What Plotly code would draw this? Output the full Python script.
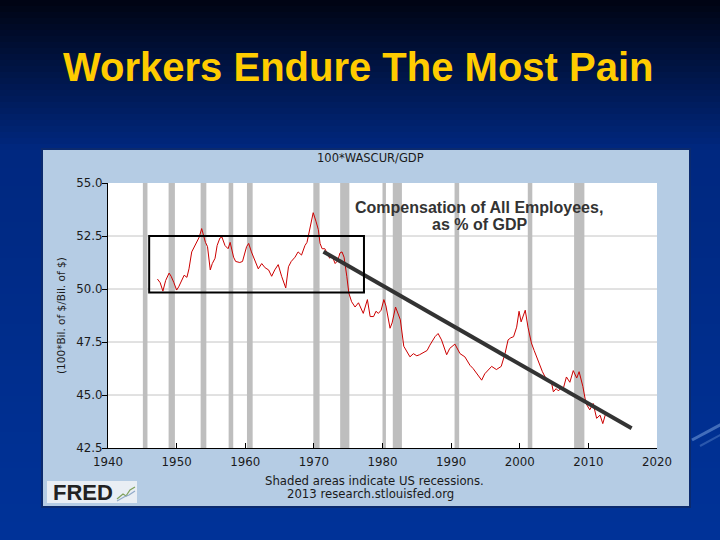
import plotly.graph_objects as go

# ---------------- data ----------------
years = [1947.2, 1947.6, 1948.0, 1948.4, 1948.9, 1949.2, 1949.6, 1950.0, 1950.3, 1950.7,
         1951.1, 1951.5, 1951.8, 1952.2, 1952.7, 1953.0, 1953.3, 1953.65, 1954.0, 1954.2,
         1954.5, 1954.9, 1955.2, 1955.6, 1955.9, 1956.3, 1956.6, 1957.05, 1957.5, 1957.8,
         1958.3, 1958.6, 1959.2, 1959.6, 1960.2, 1960.5, 1960.9, 1961.4, 1961.9, 1962.4,
         1962.9, 1963.4, 1963.85, 1964.3, 1964.8, 1965.3, 1965.9, 1966.3, 1966.7, 1967.25,
         1967.7, 1968.2, 1968.7, 1969.0, 1969.35, 1969.7, 1969.9, 1970.3, 1970.65, 1970.9,
         1971.2, 1971.6, 1972.0, 1972.3, 1972.6, 1973.1, 1973.5, 1973.8, 1974.1, 1974.4,
         1974.8, 1975.1, 1975.5, 1976.0, 1976.5, 1977.2, 1977.8, 1978.2, 1978.7, 1979.05,
         1979.4, 1979.8, 1980.2, 1980.5, 1981.1, 1981.4, 1981.9, 1982.3, 1982.6, 1983.1,
         1983.5, 1984.0, 1984.5, 1985.0, 1985.4, 1985.9, 1986.5, 1986.9, 1987.65, 1988.1,
         1988.6, 1989.35, 1989.8, 1990.55, 1991.3, 1992.0, 1992.75, 1993.2, 1993.8, 1994.45,
         1994.9, 1995.4, 1995.9, 1996.6, 1997.3, 1997.85, 1998.3, 1998.7, 1999.1, 1999.55,
         1999.9, 2000.2, 2000.5, 2000.8, 2001.2, 2001.7, 2002.1, 2002.45, 2002.9, 2003.3,
         2003.7, 2004.2, 2004.65, 2004.9, 2005.3, 2005.6, 2006.0, 2006.3, 2006.8, 2007.3,
         2007.8, 2008.3, 2008.65, 2009.2, 2009.65, 2010.2, 2010.7, 2011.2, 2011.7, 2012.1,
         2012.5]
comp_pct_gdp = [50.47, 50.3, 49.9, 50.4, 50.75, 50.6, 50.3, 49.95, 50.1, 50.4,
                50.65, 50.55, 50.95, 51.75, 52.05, 52.2, 52.45, 52.85, 52.45, 52.2,
                52.0, 50.9, 51.2, 51.45, 52.05, 52.4, 52.45, 52.05, 51.9, 52.2,
                51.5, 51.3, 51.25, 51.3, 52.0, 52.15, 51.75, 51.3, 50.95, 51.2,
                51.0, 50.9, 50.6, 50.9, 51.15, 50.6, 50.05, 51.05, 51.3, 51.5,
                51.75, 51.6, 52.05, 52.2, 52.8, 53.4, 53.6, 53.2, 52.8, 52.15,
                51.9, 51.9, 51.65, 51.45, 51.6, 51.2, 51.35, 51.7, 51.75, 51.5,
                50.6, 49.8, 49.4, 49.15, 49.35, 48.85, 49.5, 48.7, 48.7, 48.95,
                48.85, 49.0, 49.5, 49.2, 48.15, 48.4, 49.15, 48.85, 48.55, 47.3,
                47.05, 46.8, 46.95, 46.85, 46.9, 47.0, 47.1, 47.35, 47.75, 47.9,
                47.6, 46.9, 47.2, 47.4, 46.95, 46.8, 46.4, 46.25, 46.0, 45.7,
                46.0, 46.2, 46.35, 46.2, 46.35, 46.95, 47.6, 47.7, 47.75, 48.2,
                48.95, 48.45, 48.7, 49.0, 48.2, 47.45, 47.1, 46.8, 46.5, 46.1,
                45.85, 45.7, 45.55, 45.15, 45.3, 45.2, 45.3, 45.25, 45.85, 45.6,
                46.15, 45.8, 46.1, 45.4, 44.6, 44.3, 44.6, 43.9, 44.05, 43.65,
                44.1]

trend_years = [1971.4, 2016.3]
trend_values = [51.76, 43.43]

box_years = [1946.0, 1977.3]
box_values = [49.83, 52.5]

recession_starts = [1945.08, 1948.83, 1953.5, 1957.58, 1960.25, 1969.92, 1973.83,
                    1980.0, 1981.5, 1990.5, 2001.17, 2007.92]
recession_ends = [1945.75, 1949.75, 1954.33, 1958.25, 1961.08, 1970.83, 1975.17,
                  1980.5, 1982.83, 1991.17, 2001.83, 2009.42]

x_ticks = [1940, 1950, 1960, 1970, 1980, 1990, 2000, 2010, 2020]
y_ticks = [42.5, 45.0, 47.5, 50.0, 52.5, 55.0]
grid_values = [45.0, 47.5, 50.0, 52.5]

# ---------------- layout helpers ----------------
W, H = 720, 540
L, R, T, B = 108, 657, 183, 448


def px_x(px):
    return (px - L) / (R - L)


def px_y(py):
    return (B - py) / (B - T)


shapes = []
# slide background gradient
n = 90
for i in range(n):
    y0p = i * H / n
    y1p = (i + 1) * H / n + 0.6
    t = (y0p + y1p) / 2
    if t < 150:
        f = t / 150
        c = (int(1 + (0 - 1) * f), int(4 + (40 - 4) * f), int(18 + (128 - 18) * f))
    else:
        f = (t - 150) / (H - 150)
        c = (0, int(40 + 11 * f), int(128 + 25 * f))
    shapes.append(dict(type="rect", xref="paper", yref="paper", layer="below",
                       x0=px_x(-2), x1=px_x(W + 2), y0=px_y(y1p), y1=px_y(y0p),
                       fillcolor="rgb(%d,%d,%d)" % c, line=dict(width=0)))
# template streaks at right edge
shapes.append(dict(type="line", xref="paper", yref="paper", layer="below",
                   x0=px_x(692), y0=px_y(440), x1=px_x(722), y1=px_y(424),
                   line=dict(color="rgba(120,160,220,0.55)", width=3)))
shapes.append(dict(type="line", xref="paper", yref="paper", layer="below",
                   x0=px_x(700), y0=px_y(446), x1=px_x(722), y1=px_y(434),
                   line=dict(color="rgba(120,160,220,0.35)", width=2)))
# chart panel
shapes.append(dict(type="rect", xref="paper", yref="paper", layer="below",
                   x0=px_x(42), x1=px_x(690), y0=px_y(507), y1=px_y(149),
                   fillcolor="#B5CCE4", line=dict(color="#0B2A6E", width=2)))
# white plot area
shapes.append(dict(type="rect", xref="paper", yref="paper", layer="below",
                   x0=0, x1=1, y0=0, y1=1, fillcolor="white", line=dict(width=0)))
# grid lines
for g in grid_values:
    shapes.append(dict(type="line", xref="paper", yref="y", layer="below",
                       x0=0, x1=1, y0=g, y1=g, line=dict(color="#C4C4C4", width=1)))
# recession shading
for s, e in zip(recession_starts, recession_ends):
    shapes.append(dict(type="rect", xref="x", yref="paper", layer="below",
                       x0=s, x1=e, y0=0, y1=1, fillcolor="#BEBEBE", line=dict(width=0)))
# highlight box
shapes.append(dict(type="rect", xref="x", yref="y", layer="above",
                   x0=box_years[0], x1=box_years[1], y0=box_values[0], y1=box_values[1],
                   line=dict(color="black", width=2), fillcolor="rgba(0,0,0,0)"))
# FRED logo box
shapes.append(dict(type="rect", xref="paper", yref="paper", layer="below",
                   x0=px_x(47), x1=px_x(137), y0=px_y(503), y1=px_y(481),
                   fillcolor="#E9EEF4", line=dict(width=0)))
# small logo icon
shapes.append(dict(type="path", xref="paper", yref="paper", layer="above",
                   path="M %f %f L %f %f L %f %f L %f %f L %f %f" % (
                       px_x(117), px_y(499), px_x(123), px_y(494), px_x(126), px_y(496),
                       px_x(130), px_y(490), px_x(135), px_y(487)),
                   line=dict(color="#7FA05A", width=1.2)))
shapes.append(dict(type="path", xref="paper", yref="paper", layer="above",
                   path="M %f %f L %f %f L %f %f L %f %f" % (
                       px_x(117), px_y(501), px_x(124), px_y(497), px_x(129), px_y(495),
                       px_x(135), px_y(491)),
                   line=dict(color="#8FA9C8", width=1.2)))

fig = go.Figure()
fig.add_trace(go.Scatter(x=years, y=comp_pct_gdp, mode="lines",
                         line=dict(color="#CC0000", width=1), showlegend=False,
                         hoverinfo="skip"))
fig.add_trace(go.Scatter(x=trend_years, y=trend_values, mode="lines",
                         line=dict(color="#333333", width=4), showlegend=False,
                         hoverinfo="skip"))

txt = "#1A1A1A"
sans = "DejaVu Sans, Verdana"
annotations = [
    dict(text="<b>Workers Endure The Most Pain</b>", x=px_x(358), y=px_y(67),
         font=dict(family="Liberation Sans, Arial", size=40, color="#FFCC00")),
    dict(text="100*WASCUR/GDP", x=px_x(370), y=px_y(158),
         font=dict(family=sans, size=11.5, color=txt)),
    dict(text="(100*Bil. of $/Bil. of $)", x=px_x(61), y=px_y(316), textangle=-90,
         font=dict(family=sans, size=10.5, color=txt)),
    dict(text="<b>Compensation of All Employees,</b>", x=px_x(479), y=px_y(207),
         font=dict(family="Liberation Sans, Arial", size=16, color="#333333")),
    dict(text="<b>as % of GDP</b>", x=px_x(479), y=px_y(224),
         font=dict(family="Liberation Sans, Arial", size=16, color="#333333")),
    dict(text="Shaded areas indicate US recessions.", x=px_x(374), y=px_y(481),
         font=dict(family=sans, size=11.7, color=txt)),
    dict(text="2013 research.stlouisfed.org", x=px_x(370), y=px_y(494),
         font=dict(family=sans, size=11.7, color=txt)),
    dict(text="<b>FRED</b>", x=px_x(51), y=px_y(492), xanchor="left",
         font=dict(family="Liberation Sans, Arial", size=22, color="#222222")),
]
for a in annotations:
    a.setdefault("xanchor", "center")
    a.update(xref="paper", yref="paper", yanchor="middle", showarrow=False)

fig.update_layout(
    width=W, height=H,
    margin=dict(l=L, r=W - R, t=T, b=H - B, pad=0),
    paper_bgcolor="#003399",
    plot_bgcolor="rgba(0,0,0,0)",
    shapes=shapes,
    annotations=annotations,
    showlegend=False,
    hovermode=False,
    xaxis=dict(range=[1940, 2020], tickvals=x_ticks, ticktext=[str(v) for v in x_ticks],
               showgrid=False, zeroline=False, showline=True, linecolor="black",
               linewidth=1, ticks="inside", ticklen=5, tickcolor="black",
               ticklabelstandoff=3, fixedrange=True,
               tickfont=dict(family=sans, size=11.8, color=txt)),
    yaxis=dict(range=[42.5, 55.0], tickvals=y_ticks,
               ticktext=["%.1f" % v for v in y_ticks],
               showgrid=False, zeroline=False, showline=True, linecolor="black",
               linewidth=1, ticks="outside", ticklen=5, tickcolor="black",
               ticklabelstandoff=-3, fixedrange=True,
               tickfont=dict(family=sans, size=11.8, color=txt)),
)

fig.write_html("out.html", config={"displayModeBar": False},
               post_script="document.body.style.margin='0';document.body.style.overflow='hidden';")
